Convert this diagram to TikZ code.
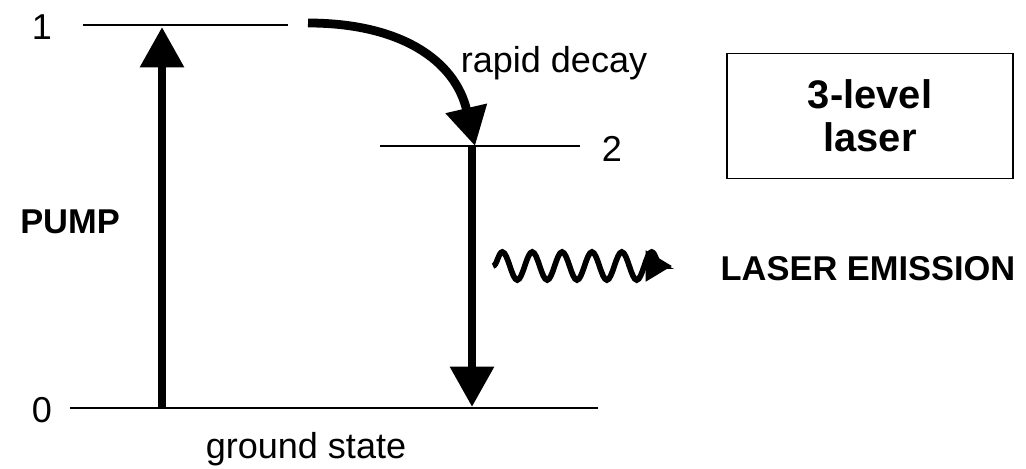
\documentclass[tikz,border=0pt]{standalone}
\usepackage{fontspec}
\setmainfont{Liberation Sans}
\usetikzlibrary{positioning,arrows.meta,decorations.pathmorphing}

\begin{document}
\begin{tikzpicture}[
  x=0.02cm, y=-0.02cm,
  lvl/.style     = {line width=1.1pt},
  txt/.style     = {font=\fontsize{20.5}{24}\selectfont, inner sep=0pt, anchor=base},
  hdr/.style     = {font=\fontsize{19.6}{22}\selectfont\bfseries, inner sep=0pt, anchor=base},
  jump/.style    = {line width=5pt, -{Triangle[length=23pt,width=24pt]}},
  decay/.style   = {line width=5pt, -{Triangle[length=22pt,width=23pt]}},
  photon/.style  = {line width=3.2pt, decorate,
                    decoration={snake, amplitude=8pt, segment length=17pt,
                                post length=1pt},
                    -{Triangle[length=15pt,width=17pt]}},
  tag/.style     = {draw, line width=1.1pt, minimum width=5.72cm, minimum height=2.5cm,
                    align=center, font=\fontsize{22.7}{24.4}\selectfont\bfseries}
]
\useasboundingbox (0,0) rectangle (1026,469);

% ============================ energy levels =================================
\coordinate (one-l)  at (83,25);   \coordinate (one-r)  at (288,25);
\coordinate (two-l)  at (380,146); \coordinate (two-r)  at (580,146);
\coordinate (zero-l) at (70,408);  \coordinate (zero-r) at (598,408);

\draw[lvl] (one-l)  -- (one-r);
\draw[lvl] (two-l)  -- (two-r);
\draw[lvl] (zero-l) -- (zero-r);

\node[txt] (lab1) at (42,40)  {1};
\node[txt] (lab2) at (612,162) {2};
\node[txt] (lab0) at (42,422) {0};
\node[txt] (ground) at (306,458) {ground state};

% ============================== transitions =================================
\coordinate (pumpbot) at (162,408);
\coordinate (pumptop) at (162,27);
\coordinate (lasetop) at (472,146);
\coordinate (lasebot) at (472,407);
\coordinate (decays)  at (308,23);
\coordinate (decaye)  at (475,146);

\draw[jump] (pumpbot) -- (pumptop);
\draw[jump] (lasetop) -- (lasebot);
\draw[decay] (decays) .. controls (400,23) and (455,60) .. (decaye);

\node[hdr] (pump) at (70,234) {PUMP};
\node[txt] (rapid) at (554,73) {rapid decay};

% =============================== emission ===================================
\coordinate (wave-s) at (493,266);
\coordinate (wave-e) at (672,266);
\draw[photon] (wave-s) -- (wave-e);

\node[hdr] (emit) at (868,280) {LASER EMISSION};

\node[tag] (kind) at (870,116) {3-level\\laser};

\end{tikzpicture}
\end{document}
